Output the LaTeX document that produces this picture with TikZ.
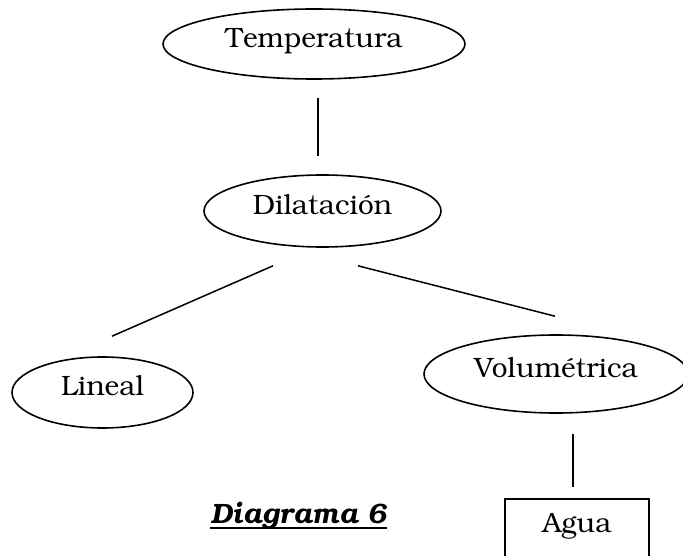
\documentclass[tikz,border=0pt]{standalone}
\usepackage[T1]{fontenc}
\usepackage{bookman}
\usetikzlibrary{shapes.geometric, calc}
\tikzset{
    concept/.style={ellipse, draw, line width=1.6pt, inner sep=0pt, text height=0.68em, text depth=0pt},
    leaf/.style={rectangle, draw, line width=1.6pt, inner sep=0pt, text height=0.68em, text depth=0pt},
    link/.style={line width=1.5pt},
}

\begin{document}
\begin{tikzpicture}[x=1pt, y=-1pt, font=\fontsize{28}{34}\selectfont]
    \useasboundingbox (0,0) rectangle (683,556);
    \node[concept, minimum width=302, minimum height=70] (T) at (314,44) {Temperatura};
    \node[concept, minimum width=237, minimum height=72] (D) at (322.5,211) {Dilataci\'on};
    \node[concept, minimum width=181, minimum height=71] (L) at (102.5,392.5) {Lineal};
    \node[concept, minimum width=264, minimum height=78] (V) at (556,374) {Volum\'etrica};
    \node[leaf, minimum width=144, minimum height=60] (A) at (577,529) {Agua};
    \node[anchor=base, inner sep=0pt, font=\fontsize{28}{34}\selectfont\bfseries\itshape] (cap) at (298.5,523) {Diagrama 6};
    \draw[line width=2pt] ($(cap.base west)+(0,5)$) -- ($(cap.base east)+(0,5)$);
    % links, with a gap at both ends
    \draw[link] ($(T.south)+(4,18)$) -- ($(D.north)+(-4.5,-18)$);
    \draw[link] ($(D.south)+(-49.5,18)$) -- ($(L.north)+(9.5,-20)$);
    \draw[link] ($(D.south)+(35.5,18)$) -- ($(V.north)+(-1,-18)$);
    \draw[link] ($(V.south)+(17,20)$) -- ($(A.north)+(-4,-11)$);
\end{tikzpicture}
\end{document}
